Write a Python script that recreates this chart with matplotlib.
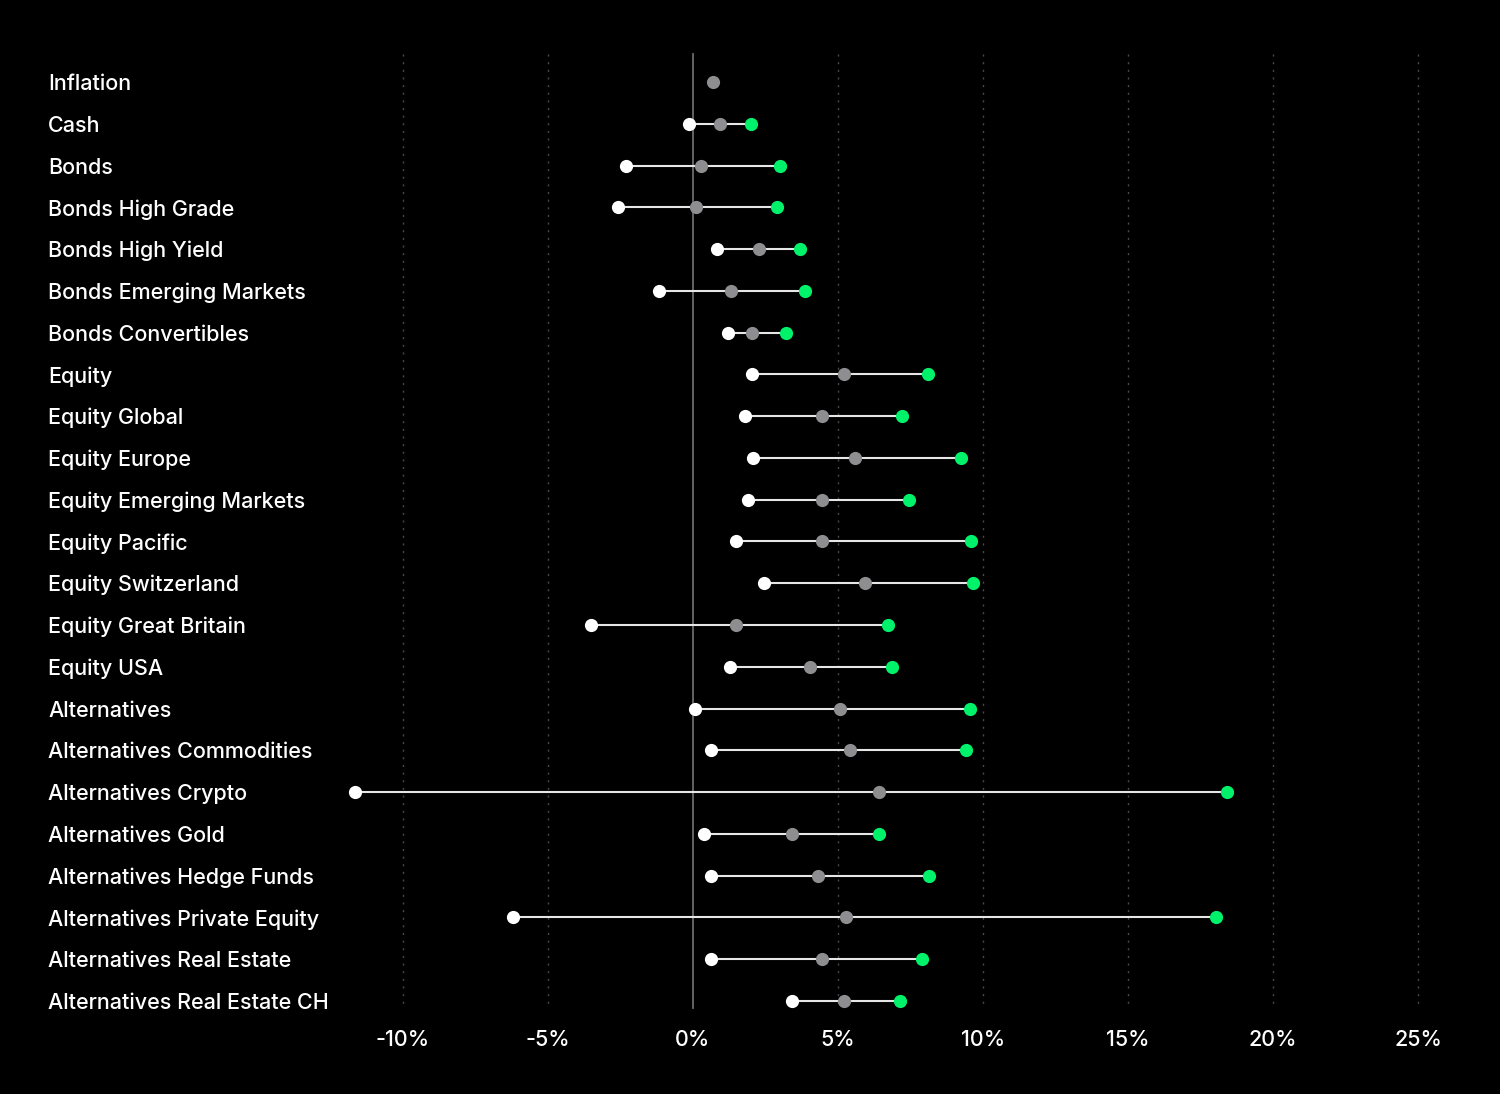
import matplotlib
matplotlib.use("Agg")
import matplotlib.pyplot as plt
import matplotlib.transforms as mtransforms

categories = ["Inflation", "Cash", "Bonds", "Bonds High Grade", "Bonds High Yield",
              "Bonds Emerging Markets", "Bonds Convertibles", "Equity", "Equity Global",
              "Equity Europe", "Equity Emerging Markets", "Equity Pacific",
              "Equity Switzerland", "Equity Great Britain", "Equity USA", "Alternatives",
              "Alternatives Commodities", "Alternatives Crypto", "Alternatives Gold",
              "Alternatives Hedge Funds", "Alternatives Private Equity",
              "Alternatives Real Estate", "Alternatives Real Estate CH"]
low = [None, -0.14, -2.31, -2.59, 0.83, -1.17, 1.21, 2.03, 1.79, 2.07, 1.90, 1.48, 2.45,
       -3.52, 1.28, 0.07, 0.62, -11.64, 0.38, 0.62, -6.20, 0.62, 3.41]
mid = [0.69, 0.93, 0.28, 0.10, 2.28, 1.31, 2.03, 5.20, 4.45, 5.59, 4.45, 4.45, 5.93,
       1.48, 4.03, 5.07, 5.41, 6.41, 3.41, 4.31, 5.27, 4.45, 5.20]
high = [None, 2.00, 3.00, 2.90, 3.69, 3.86, 3.20, 8.10, 7.20, 9.24, 7.45, 9.59, 9.66,
        6.72, 6.86, 9.55, 9.41, 18.43, 6.41, 8.14, 18.04, 7.90, 7.14]
xticks = [-10, -5, 0, 5, 10, 15, 20, 25]
xticklabels = ["-10%", "-5%", "0%", "5%", "10%", "15%", "20%", "25%"]

plt.rcParams['font.family'] = ['Inter', 'DejaVu Sans']
fig = plt.figure(figsize=(15, 10.94), dpi=100, facecolor='black')
ax = fig.add_axes([0, 0, 1, 1])
ax.set_facecolor('black')
pxpp = 29.0
x0 = 693.0
ax.set_xlim(-x0 / pxpp, (1500 - x0) / pxpp)
rowh = 41.77
y0 = 82.0
ax.set_ylim((1094 - y0) / rowh, -y0 / rowh)
ax.axis('off')

gtop = (54 - y0) / rowh
gbot = (1008 - y0) / rowh
for t in xticks:
    if t == 0:
        ax.plot([t, t], [gtop, gbot], color='#6b6b6b', lw=1.3, zorder=1)
    else:
        ax.plot([t, t], [gtop, gbot], color='#4a4a4a', lw=1.0, ls=(0, (1.5, 4)), zorder=1)

txt_off = 2.0 / rowh
ytick = (1038 - y0) / rowh + txt_off
for t, lab in zip(xticks, xticklabels):
    ax.text(t, ytick, lab, color='white', fontsize=15.5, fontweight='medium',
            ha='center', va='center')

trans = mtransforms.blended_transform_factory(fig.transFigure, ax.transData)
ms = 9.5
for i, c in enumerate(categories):
    ax.text(48 / 1500, i + txt_off, c, transform=trans, color='white', fontsize=15.5,
            fontweight='medium', ha='left', va='center')
    if low[i] is not None:
        ax.plot([low[i], high[i]], [i, i], color='#e6e6e6', lw=1.5, zorder=2)
        ax.plot(low[i], i, 'o', color='white', ms=ms, mec='none', zorder=3)
        ax.plot(high[i], i, 'o', color='#00f26b', ms=ms, mec='none', zorder=3)
    ax.plot(mid[i], i, 'o', color='#8e8e91', ms=ms, mec='none', zorder=4)

fig.savefig('out.png', dpi=100, facecolor='black')
